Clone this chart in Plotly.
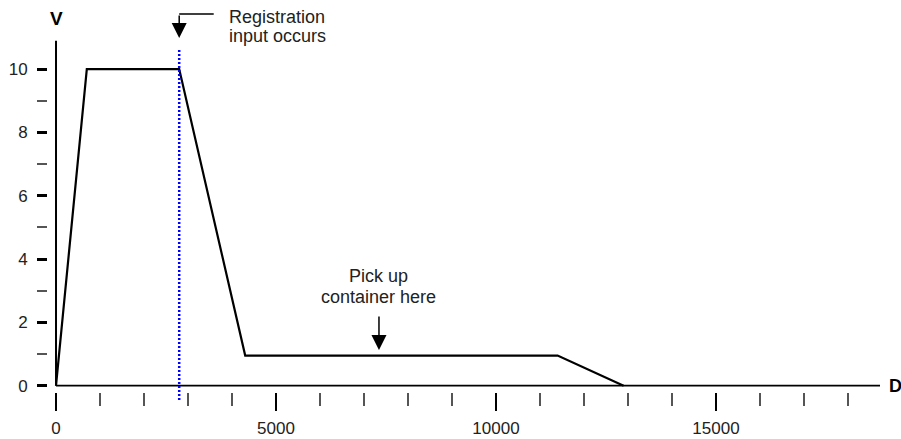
import plotly.graph_objects as go

# motion profile: distance (D) vs velocity (V)
distance = [0, 700, 2800, 4300, 11400, 12900]
velocity = [0, 10, 10, 0.95, 0.95, 0]

registration_d = 2800
pickup_d = 7340
axis_end_d = 18727
axis_top_v = 10.9

FONT = "Arial, Liberation Sans, sans-serif"

fig = go.Figure()

fig.add_trace(
    go.Scatter(
        x=distance,
        y=velocity,
        mode="lines",
        line={"color": "black", "width": 2.2},
        hoverinfo="skip",
        showlegend=False,
    )
)

# axis lines drawn detached from the tick rows
fig.add_shape(type="line", xref="x", yref="y", x0=0, x1=axis_end_d, y0=0, y1=0,
              line={"color": "black", "width": 1.8})
fig.add_shape(type="line", xref="x", yref="y", x0=0, x1=0, y0=0, y1=axis_top_v,
              line={"color": "black", "width": 2})

# registration marker
fig.add_shape(type="line", xref="x", yref="paper", x0=registration_d, x1=registration_d,
              y0=-0.0227, y1=0.9716,
              line={"color": "#0000ff", "width": 2.5, "dash": "2px,2px"})

label_font = {"family": FONT, "size": 18, "color": "#222"}
axis_font = {"family": FONT, "size": 18, "color": "black"}

annotations = [
    dict(x=registration_d, y=1.074, xref="x", yref="paper", text="", showarrow=True,
         ax=36, ay=0, arrowhead=0, arrowwidth=1.5, arrowcolor="black"),
    dict(x=registration_d, y=1.0057, xref="x", yref="paper", text="", showarrow=True,
         ax=0, ay=-24, arrowhead=2, arrowsize=2, arrowwidth=1.5, arrowcolor="black"),
    dict(x=3886, y=1.0655, xref="x", yref="paper", text="Registration",
         showarrow=False, xanchor="left", yanchor="middle", font=label_font),
    dict(x=3886, y=1.0115, xref="x", yref="paper", text="input occurs",
         showarrow=False, xanchor="left", yanchor="middle", font=label_font),
    dict(x=pickup_d, y=1.13, xref="x", yref="y", text="", showarrow=True,
         ax=0, ay=-35, arrowhead=2, arrowsize=2, arrowwidth=1.5, arrowcolor="black"),
    dict(x=pickup_d, y=3.46, xref="x", yref="y", text="Pick up",
         showarrow=False, xanchor="center", yanchor="middle", font=label_font),
    dict(x=pickup_d, y=2.80, xref="x", yref="y", text="container here",
         showarrow=False, xanchor="center", yanchor="middle", font=label_font),
    dict(x=0, y=1.0625, xref="x", yref="paper", text="<b>V</b>", showarrow=False,
         xanchor="center", yanchor="middle", font={"family": FONT, "size": 19, "color": "black"}),
    dict(x=1.0084, y=0, xref="paper", yref="y", text="<b>D</b>", showarrow=False,
         xanchor="left", yanchor="middle", font=axis_font),
]

fig.update_layout(
    width=901,
    height=439,
    paper_bgcolor="white",
    plot_bgcolor="white",
    margin={"l": 48, "r": 21, "t": 40, "b": 47, "autoexpand": False},
    font={"family": FONT, "size": 17, "color": "#222"},
    annotations=annotations,
    showlegend=False,
)

fig.update_xaxes(
    range=[-182, axis_end_d],
    tickmode="linear",
    tick0=0,
    dtick=5000,
    tickformat="d",
    ticks="outside",
    ticklen=18,
    tickwidth=2,
    tickcolor="black",
    ticklabelstandoff=3,
    minor={"dtick": 1000, "tick0": 0, "ticks": "outside", "ticklen": 13,
           "tickwidth": 1.5, "tickcolor": "#555"},
    showgrid=False,
    zeroline=False,
    showline=False,
    automargin=False,
    fixedrange=True,
)

fig.update_yaxes(
    range=[-0.2, 10.92],
    tickmode="linear",
    tick0=0,
    dtick=2,
    ticks="outside",
    ticklen=10,
    tickwidth=2.5,
    tickcolor="black",
    ticklabelstandoff=6,
    minor={"dtick": 1, "tick0": 0, "ticks": "outside", "ticklen": 10,
           "tickwidth": 1.5, "tickcolor": "#555"},
    showgrid=False,
    zeroline=False,
    showline=False,
    automargin=False,
    fixedrange=True,
)

# drop the default page margin so the figure sits at the window's corner
fig.write_html(
    "out.html",
    config={"displayModeBar": False},
    post_script="document.body.style.margin='0';document.body.style.overflow='hidden';",
)
